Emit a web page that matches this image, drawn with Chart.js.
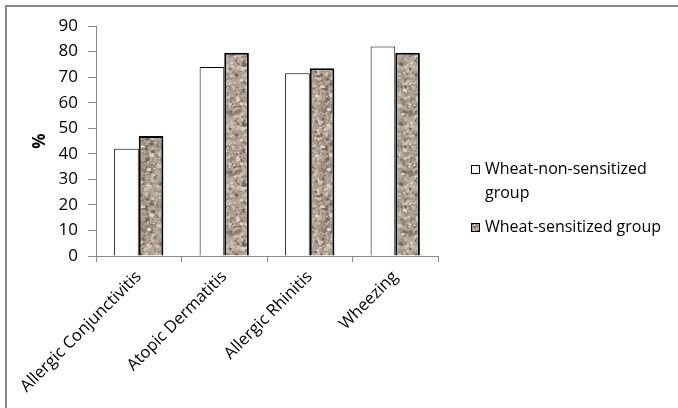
<!DOCTYPE html>
<html>
<head>
<meta charset="utf-8">
<script src="https://cdn.jsdelivr.net/npm/chart.js@4/dist/chart.umd.min.js"></script>
<style>
  html, body { margin: 0; padding: 0; background: #fff; }
  #wrap { width: 678px; height: 408px; position: relative; }
</style>
</head>
<body>
<div id="wrap"><canvas id="c" width="678" height="408"></canvas></div>
<script>
// Symptoms compared between the two groups (% of children)
const categories = ['Allergic Conjunctivitis', 'Atopic Dermatitis', 'Allergic Rhinitis', 'Wheezing'];
const seriesNames = ['Wheat-non-sensitized group', 'Wheat-sensitized group'];
const nonSensitized = [42, 74, 71.5, 82];
const sensitized = [47, 79.5, 73.5, 79.5];
const yTicks = [0, 10, 20, 30, 40, 50, 60, 70, 80, 90];

const FONT = '"Open Sans", "Liberation Sans", sans-serif';

// Granite-like speckled fill for the sensitized bars
function makeGranite() {
  const size = 60;
  const cv = document.createElement('canvas');
  cv.width = size; cv.height = size;
  const g = cv.getContext('2d');
  g.fillStyle = '#ab9d8f';
  g.fillRect(0, 0, size, size);
  const hash = (i) => { const v = Math.sin(i * 12.9898 + 78.233) * 43758.5453; return v - Math.floor(v); };
  const shades = ['#74675d', '#8c7d70', '#9f9082', '#b7aa9c', '#cbc0b4', '#dcd3c9'];
  let k = 0;
  for (let n = 0; n < 900; n++) {
    const x = hash(++k) * size;
    const y = hash(++k) * size;
    const r = 0.6 + hash(++k) * 1.3;
    const h = hash(++k);
    const idx = h < 0.1 ? 0 : h < 0.24 ? 1 : h < 0.42 ? 2 : h < 0.68 ? 3 : h < 0.88 ? 4 : 5;
    g.fillStyle = shades[idx];
    for (const dx of [-size, 0, size]) {
      for (const dy of [-size, 0, size]) {
        g.beginPath();
        g.ellipse(x + dx, y + dy, r * 1.3, r, hash(k) * Math.PI, 0, Math.PI * 2);
        g.fill();
      }
    }
  }
  return g.createPattern(cv, 'repeat');
}

const ctx = document.getElementById('c').getContext('2d');
const granite = makeGranite();

// Outer frame of the chart (top and left edges fall inside the canvas)
const framePlugin = {
  id: 'frame',
  beforeDraw(chart) {
    const c = chart.ctx;
    c.save();
    c.fillStyle = '#fff';
    c.fillRect(0, 0, chart.width, chart.height);
    c.strokeStyle = '#8a8a8a';
    c.lineWidth = 2;
    c.beginPath();
    c.moveTo(6, chart.height);
    c.lineTo(6, 6);
    c.lineTo(chart.width, 6);
    c.stroke();
    c.restore();
  }
};

// Legend to the right of the plot, with word wrapping
const sideLegend = {
  id: 'sideLegend',
  afterDraw(chart) {
    const c = chart.ctx;
    c.save();
    c.font = '16px ' + FONT;
    c.textBaseline = 'middle';
    const boxX = 471, textX = 485, maxW = 185, lineH = 24;
    let y = 169;
    chart.data.datasets.forEach((ds) => {
      const words = ds.label.split(' ');
      const lines = [];
      let cur = '';
      words.forEach(w => {
        const t = cur ? cur + ' ' + w : w;
        if (c.measureText(t).width > maxW && cur) { lines.push(cur); cur = w; } else { cur = t; }
      });
      lines.push(cur);
      c.fillStyle = ds.backgroundColor;
      c.fillRect(boxX, y - 4, 8, 8);
      c.strokeStyle = '#000';
      c.lineWidth = 1;
      c.strokeRect(boxX + 0.5, y - 3.5, 8, 8);
      c.fillStyle = '#000';
      lines.forEach((ln, j) => c.fillText(ln, textX, y + j * lineH));
      y += lines.length * lineH + 10;
    });
    c.restore();
  }
};

new Chart(ctx, {
  type: 'bar',
  data: {
    labels: categories,
    datasets: [
      {
        label: seriesNames[0],
        data: nonSensitized,
        backgroundColor: '#ffffff',
        borderColor: '#000000',
        borderWidth: 1,
        categoryPercentage: 0.576,
        barPercentage: 1.0
      },
      {
        label: seriesNames[1],
        data: sensitized,
        backgroundColor: granite,
        borderColor: '#000000',
        borderWidth: 2,
        categoryPercentage: 0.576,
        barPercentage: 1.0
      }
    ]
  },
  options: {
    responsive: false,
    animation: false,
    devicePixelRatio: 1,
    layout: { padding: { left: 0, right: 240, top: 26, bottom: 0 } },
    plugins: {
      legend: { display: false },
      tooltip: { enabled: false }
    },
    scales: {
      x: {
        grid: { display: true, drawOnChartArea: false, offset: true, tickLength: 6, color: '#8a8a8a' },
        border: { color: '#8a8a8a' },
        ticks: {
          color: '#000',
          font: { family: FONT, size: 16.5 },
          minRotation: 45,
          maxRotation: 45,
          padding: 5
        },
        afterFit(scale) { scale.height = 152; }
      },
      y: {
        min: 0,
        max: 90,
        afterBuildTicks(scale) { scale.ticks = yTicks.map(v => ({ value: v })); },
        grid: { display: true, drawOnChartArea: false, tickLength: 8, color: '#8a8a8a' },
        border: { color: '#8a8a8a' },
        ticks: {
          color: '#000',
          font: { family: FONT, size: 17 },
          padding: 10
        },
        title: {
          display: true,
          text: '%',
          color: '#000',
          font: { family: FONT, size: 17, weight: 'bold' },
          padding: { top: 30, bottom: 0 }
        },
        afterFit(scale) { scale.width = 96; }
      }
    }
  },
  plugins: [framePlugin, sideLegend]
});
</script>
</body>
</html>
